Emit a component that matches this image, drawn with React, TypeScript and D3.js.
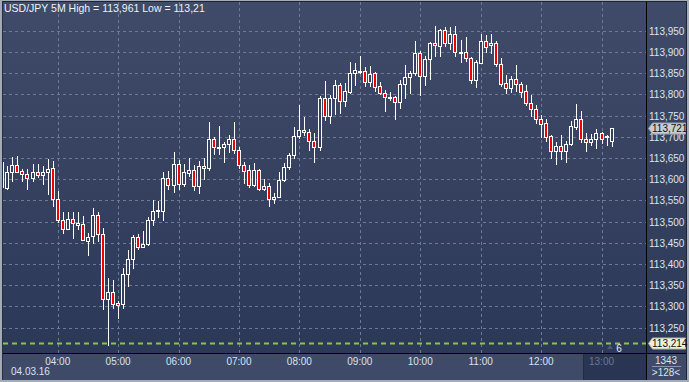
import React from "react";
import * as d3 from "d3";

// ---- data (USD/JPY 5M, 03:05 .. 13:10) ----
const startTime = "2016-03-04T03:05:00";
const stepMinutes = 5;
const opens = [
  113.640, 113.580, 113.616, 113.633, 113.619, 113.612, 113.604, 113.616, 113.609, 113.616, 113.626,
  113.553, 113.503, 113.482, 113.506, 113.493, 113.494, 113.455, 113.466, 113.515, 113.472,
  113.317, 113.333, 113.308, 113.305, 113.376, 113.412, 113.463, 113.441, 113.447, 113.503,
  113.525, 113.526, 113.604, 113.586, 113.637, 113.588, 113.615, 113.621, 113.583, 113.630,
  113.626, 113.694, 113.675, 113.675, 113.682, 113.694, 113.670, 113.633, 113.622, 113.586,
  113.622, 113.578, 113.584, 113.553, 113.559, 113.598, 113.628, 113.656, 113.702, 113.716,
  113.711, 113.691, 113.675, 113.791, 113.750, 113.791, 113.821, 113.785, 113.806, 113.850,
  113.853, 113.856, 113.830, 113.850, 113.820, 113.802, 113.792, 113.793, 113.781, 113.824,
  113.842, 113.850, 113.897, 113.843, 113.883, 113.920, 113.915, 113.952, 113.922, 113.942,
  113.899, 113.899, 113.885, 113.834, 113.875, 113.925, 113.916, 113.920, 113.871, 113.826,
  113.814, 113.835, 113.824, 113.808, 113.779, 113.765, 113.741, 113.732, 113.701, 113.667,
  113.678, 113.667, 113.682, 113.724, 113.742, 113.694, 113.687, 113.694, 113.708, 113.700,
  113.691,
];
const highs = [
  113.645, 113.631, 113.652, 113.655, 113.623, 113.623, 113.637, 113.637, 113.631, 113.648, 113.642,
  113.573, 113.523, 113.523, 113.523, 113.523, 113.513, 113.474, 113.532, 113.523, 113.484,
  113.368, 113.362, 113.313, 113.390, 113.433, 113.468, 113.470, 113.478, 113.510, 113.550,
  113.549, 113.617, 113.619, 113.664, 113.645, 113.637, 113.649, 113.633, 113.643, 113.649,
  113.734, 113.700, 113.725, 113.688, 113.704, 113.734, 113.677, 113.641, 113.633, 113.638,
  113.624, 113.601, 113.592, 113.568, 113.617, 113.639, 113.662, 113.722, 113.775, 113.747,
  113.718, 113.708, 113.796, 113.831, 113.798, 113.834, 113.827, 113.827, 113.876, 113.875,
  113.890, 113.864, 113.867, 113.853, 113.830, 113.810, 113.805, 113.796, 113.834, 113.868,
  113.854, 113.926, 113.901, 113.890, 113.924, 113.961, 113.953, 113.958, 113.959, 113.961,
  113.928, 113.935, 113.887, 113.881, 113.942, 113.941, 113.942, 113.925, 113.885, 113.846,
  113.843, 113.869, 113.830, 113.822, 113.798, 113.775, 113.751, 113.742, 113.704, 113.688,
  113.704, 113.689, 113.737, 113.777, 113.761, 113.708, 113.706, 113.718, 113.711, 113.704,
  113.721,
];
const lows = [
  113.575, 113.578, 113.596, 113.616, 113.596, 113.576, 113.596, 113.606, 113.589, 113.564, 113.538,
  113.500, 113.474, 113.482, 113.462, 113.482, 113.457, 113.421, 113.449, 113.455, 113.293,
  113.210, 113.296, 113.274, 113.296, 113.349, 113.391, 113.436, 113.441, 113.445, 113.493,
  113.512, 113.504, 113.578, 113.571, 113.578, 113.585, 113.608, 113.575, 113.568, 113.601,
  113.622, 113.659, 113.659, 113.641, 113.665, 113.661, 113.626, 113.592, 113.582, 113.584,
  113.575, 113.575, 113.537, 113.545, 113.559, 113.596, 113.623, 113.649, 113.696, 113.704,
  113.670, 113.641, 113.670, 113.740, 113.733, 113.754, 113.757, 113.773, 113.802, 113.822,
  113.850, 113.820, 113.820, 113.809, 113.801, 113.761, 113.787, 113.743, 113.768, 113.792,
  113.804, 113.846, 113.798, 113.823, 113.835, 113.890, 113.890, 113.914, 113.908, 113.890,
  113.877, 113.879, 113.827, 113.818, 113.875, 113.900, 113.898, 113.867, 113.820, 113.802,
  113.806, 113.809, 113.794, 113.775, 113.750, 113.732, 113.700, 113.691, 113.649, 113.635,
  113.647, 113.641, 113.680, 113.719, 113.688, 113.667, 113.681, 113.674, 113.686, 113.680,
  113.678,
];
const closes = [
  113.581, 113.616, 113.633, 113.618, 113.612, 113.604, 113.616, 113.609, 113.616, 113.624, 113.553,
  113.503, 113.482, 113.506, 113.496, 113.496, 113.457, 113.463, 113.515, 113.472, 113.317,
  113.333, 113.307, 113.303, 113.376, 113.412, 113.463, 113.441, 113.447, 113.503, 113.525,
  113.528, 113.604, 113.586, 113.637, 113.588, 113.616, 113.621, 113.583, 113.630, 113.626,
  113.694, 113.675, 113.676, 113.683, 113.694, 113.669, 113.633, 113.620, 113.586, 113.622,
  113.578, 113.584, 113.553, 113.559, 113.598, 113.628, 113.656, 113.702, 113.716, 113.711,
  113.691, 113.675, 113.791, 113.750, 113.791, 113.821, 113.785, 113.807, 113.851, 113.857,
  113.856, 113.830, 113.848, 113.818, 113.802, 113.794, 113.794, 113.781, 113.824, 113.842,
  113.850, 113.897, 113.843, 113.883, 113.920, 113.916, 113.952, 113.922, 113.942, 113.899,
  113.900, 113.885, 113.834, 113.877, 113.925, 113.912, 113.920, 113.871, 113.824, 113.814,
  113.835, 113.824, 113.806, 113.780, 113.765, 113.741, 113.731, 113.700, 113.667, 113.678,
  113.667, 113.682, 113.725, 113.742, 113.694, 113.687, 113.694, 113.708, 113.694, 113.701,
  113.721,
];
const priceTicks = [113.25, 113.3, 113.35, 113.4, 113.45, 113.5, 113.55, 113.6, 113.65, 113.7, 113.75, 113.8, 113.85, 113.9, 113.95];
const hourTicks = ["04:00", "05:00", "06:00", "07:00", "08:00", "09:00", "10:00", "11:00", "12:00"];
const futureHour = "13:00";
const dateLabel = "04.03.16";
const titleText = "USD/JPY 5M High = 113,961 Low = 113,21";
const lastPrice = 113.721;
const markerPrice = 113.214;
const markerCount = "6";
const barCountTop = "1343";
const barCountBottom = ">128<";

const W = 689, H = 382;
const plotL = 3, plotR = 646, plotT = 2, plotB = 353;
const axisB = 380;
const FONT = "'Liberation Sans', Arial, sans-serif";
const FS = 10;

const t0 = new Date("2016-03-04T04:00:00");
const t13 = new Date("2016-03-04T13:00:00");
const x = d3.scaleTime().domain([t0, t13]).range([57.7, 601.5]);
const y = d3.scaleLinear().domain([113.25, 113.95]).range([327.7, 30.7]);
const fmtPrice = (v: number) => d3.format(".3f")(v).replace(".", ",");
const parseHM = (s: string) => {
  const [h, m] = s.split(":").map(Number);
  const d = new Date(t0);
  d.setHours(h, m);
  return d;
};

const start = new Date(startTime);
const candles = opens.map((o, i) => ({
  t: new Date(start.getTime() + i * stepMinutes * 60000),
  o, h: highs[i], l: lows[i], c: closes[i],
}));

function PriceTag({ price, fill, stroke }: { price: number; fill: string; stroke: string }) {
  const cy = Math.round(y(price)) + 0.5;
  const x0 = plotR + 2.5, x1 = 685.5, hh = 5.5;
  const path = `M${x0},${cy} L${x0 + 4},${cy - hh} L${x1},${cy - hh} L${x1},${cy + hh} L${x0 + 4},${cy + hh} Z`;
  return (
    <g>
      <path d={path} fill={fill} stroke={stroke} strokeWidth={1} />
      <text x={x0 + 3.5} y={cy + 3.5} fontSize={FS} fill="#111" fontFamily={FONT}>{fmtPrice(price)}</text>
    </g>
  );
}

export default function App() {
  const clipId = "plotClip";
  return (
    <svg width={W} height={H} style={{ position: "fixed", left: 0, top: 0 }} xmlns="http://www.w3.org/2000/svg">
      <defs>
        <linearGradient id="bgGrad" x1="0" y1="0" x2="0" y2="1">
          <stop offset="0" stopColor="#3f4b68" />
          <stop offset="1" stopColor="#2c3857" />
        </linearGradient>
        <clipPath id={clipId}>
          <rect x={plotL} y={plotT} width={plotR - plotL} height={plotB - plotT} />
        </clipPath>
      </defs>
      {/* outer frame */}
      <rect x={0} y={0} width={W} height={H} fill="#a3abb7" />
      <rect x={2} y={1} width={W - 4} height={axisB - 1} fill="#1c2438" />
      {/* plot & right axis background */}
      <rect x={plotL} y={plotT} width={plotR - plotL} height={plotB - plotT} fill="url(#bgGrad)" />
      <rect x={plotR + 1} y={plotT} width={686 - plotR - 1} height={plotB - plotT} fill="url(#bgGrad)" />
      {/* bottom axis background */}
      <rect x={plotL} y={plotB + 1} width={686 - plotL} height={axisB - plotB - 1} fill="#3e4a68" />
      <rect x={583} y={plotB + 1} width={plotR - 583} height={axisB - plotB - 1} fill="#2a3553" />
      <line x1={583.5} x2={583.5} y1={plotB + 1} y2={axisB} stroke="#222b42" />

      {/* grid */}
      <g clipPath={`url(#${clipId})`} stroke="#6c7a98" strokeWidth={1} strokeDasharray="3,3">
        {priceTicks.map((p) => (
          <line key={p} x1={plotL} x2={plotR} y1={Math.round(y(p)) + 0.5} y2={Math.round(y(p)) + 0.5} />
        ))}
        {[...hourTicks, futureHour].map((h) => (
          <line key={h} x1={Math.round(x(parseHM(h))) + 0.5} x2={Math.round(x(parseHM(h))) + 0.5} y1={plotT} y2={plotB} />
        ))}
      </g>

      {/* marker line */}
      <line x1={plotL} x2={plotR} y1={Math.round(y(markerPrice)) + 0.5} y2={Math.round(y(markerPrice)) + 0.5}
        stroke="#8cc63e" strokeWidth={2} strokeDasharray="5,4" />

      {/* candles */}
      <g clipPath={`url(#${clipId})`}>
        {candles.map((d, i) => {
          const px = Math.round(x(d.t));
          const up = d.c >= d.o;
          const top = Math.round(y(Math.max(d.o, d.c)));
          let bot = Math.round(y(Math.min(d.o, d.c)));
          if (bot - top < 1) bot = top + 1;
          return (
            <g key={i}>
              <line x1={px + 0.5} x2={px + 0.5} y1={Math.round(y(d.h))} y2={Math.round(y(d.l)) + 1} stroke="#ffffff" strokeWidth={1} />
              <rect x={px - 1.5} y={top + 0.5} width={3} height={bot - top} fill={up ? "#34405e" : "#ee0000"} stroke="#ffffff" strokeWidth={1} />
            </g>
          );
        })}
      </g>

      {/* separators */}
      <line x1={plotR + 0.5} x2={plotR + 0.5} y1={plotT} y2={axisB} stroke="#000" />
      <line x1={plotL} x2={686} y1={plotB + 0.5} y2={plotB + 0.5} stroke="#000" />
      <line x1={2.5} x2={2.5} y1={1} y2={axisB} stroke="#252d42" />

      {/* title */}
      <text x={4} y={12} fontSize={10.5} fill="#eef2f8" fontFamily={FONT}>{titleText}</text>

      {/* price axis labels */}
      {priceTicks.map((p) => (
        <text key={p} x={649} y={Math.round(y(p)) + 4} fontSize={FS} fill="#dde4ef" fontFamily={FONT}>{fmtPrice(p)}</text>
      ))}
      <PriceTag price={lastPrice} fill="#c8ccd3" stroke="#9aa1ad" />
      <PriceTag price={markerPrice} fill="#eeeedb" stroke="#b8b8a0" />

      {/* marker count */}
      <path d={`M${607},${349} L${610},${345} L${613},${349} Z`} fill="#4d5a78" />
      <text x={619} y={352} fontSize={FS} fill="#e8edf5" fontFamily={FONT} textAnchor="middle">{markerCount}</text>

      {/* time axis */}
      {hourTicks.map((h) => (
        <text key={h} x={x(parseHM(h))} y={365} fontSize={FS} fill="#d8e2f0" fontFamily={FONT} textAnchor="middle">{h}</text>
      ))}
      <text x={x(parseHM(futureHour))} y={365} fontSize={FS} fill="#6b7793" fontFamily={FONT} textAnchor="middle">{futureHour}</text>
      <text x={11} y={375} fontSize={FS} fill="#d8e2f0" fontFamily={FONT}>{dateLabel}</text>

      {/* bar count box */}
      <text x={666} y={363.5} fontSize={FS} fill="#d8e2f0" fontFamily={FONT} textAnchor="middle">{barCountTop}</text>
      <line x1={652} x2={681} y1={366.5} y2={366.5} stroke="#8a95aa" />
      <text x={666} y={376} fontSize={FS} fill="#d8e2f0" fontFamily={FONT} textAnchor="middle">{barCountBottom}</text>
    </svg>
  );
}
